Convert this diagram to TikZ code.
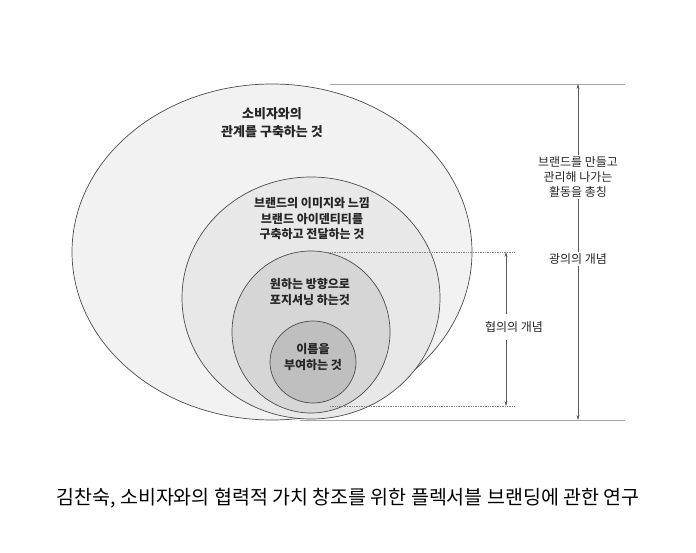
\documentclass[tikz,border=0pt]{standalone}
\usepackage{fontspec}
\setmainfont{Noto Sans CJK KR}
\usetikzlibrary{arrows.meta}
\tikzset{
  ring/.style={draw=black!70, line width=0.7pt},
  lbl/.style={align=center, font=\bfseries\fontsize{12}{15.5}\selectfont, text=black!85},
  side/.style={align=center, font=\fontsize{12}{15}\selectfont, fill=white, inner sep=2pt, text=black!85},
  rule/.style={draw=black!35, line width=0.6pt},
  dots/.style={draw=black!50, densely dotted, line width=0.7pt},
  span/.style={draw=black!65, line width=0.5pt, {Stealth[length=5pt,width=3pt]}-{Stealth[length=5pt,width=3pt]}}
}
\begin{document}
\begin{tikzpicture}[x=1pt,y=-1pt]
    \useasboundingbox (0,0) rectangle (696,553);
    % Nested ellipses
    \filldraw[ring, fill=black!5] (272,252) ellipse [x radius=200, y radius=168];
    \filldraw[ring, fill=black!9] (311,298) ellipse [x radius=129, y radius=121];
    \filldraw[ring, fill=black!16] (311,332) ellipse [x radius=79, y radius=81];
    \filldraw[ring, fill=black!25] (313,362) ellipse [x radius=43, y radius=41];

    % Labels inside
    \node[lbl, font=\bfseries\fontsize{13}{18}\selectfont] (outer) at (272,123) {소비자와의\\관계를 구축하는 것};
    \node[lbl] (second) at (312,219) {브랜드의 이미지와 느낌\\브랜드 아이덴티티를\\구축하고 전달하는 것};
    \node[lbl] (third) at (310,292) {원하는 방향으로\\포지셔닝 하는것};
    \node[lbl] (inner) at (313,357) {이름을\\부여하는 것};

    % Guide lines
    \coordinate (topL) at (330,84);   \coordinate (topR) at (625,84);
    \coordinate (botL) at (300,420);  \coordinate (botR) at (625,420);
    \coordinate (midL) at (325,252);  \coordinate (midR) at (515,252);
    \coordinate (lowL) at (330,406);  \coordinate (lowR) at (515,406);
    \draw[rule] (topL) -- (topR);
    \draw[rule] (botL) -- (botR);
    \draw[dots] (midL) -- (midR);
    \draw[dots] (lowL) -- (lowR);

    % Spans
    \coordinate (wideT) at (578,84);  \coordinate (wideB) at (578,420);
    \coordinate (narT) at (506,252);  \coordinate (narB) at (506,406);
    \draw[span] (wideT) -- (wideB);
    \draw[span] (narT) -- (narB);
    \node[side] (brand) at (578,177) {브랜드를 만들고\\관리해 나가는\\활동을 총칭};
    \node[side] (wide) at (578,259) {광의의 개념};
    \node[side, inner ysep=8pt] (narrow) at (514,327) {협의의 개념};

    % Caption
    \node[font=\fontsize{19.5}{22}\selectfont] (cap) at (348,498) {김찬숙, 소비자와의 협력적 가치 창조를 위한 플렉서블 브랜딩에 관한 연구};
\end{tikzpicture}
\end{document}
